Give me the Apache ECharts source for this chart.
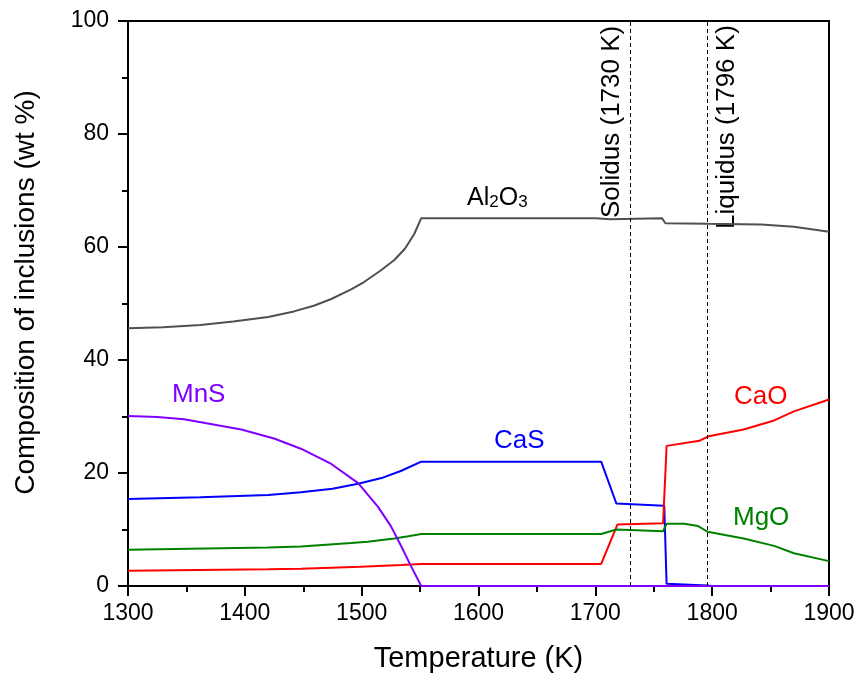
<!DOCTYPE html>
<html>
<head>
<meta charset="utf-8">
<script src="https://cdn.jsdelivr.net/npm/echarts@6/dist/echarts.min.js"></script>
<style>
  html, body { margin: 0; padding: 0; background: #fff; }
  #chart { width: 858px; height: 675px; }
</style>
</head>
<body>
<div id="chart"></div>
<script>
// Equilibrium inclusion composition (wt %) vs. temperature (K)
const xTicks = [1300, 1400, 1500, 1600, 1700, 1800, 1900];
const yTicks = [0, 20, 40, 60, 80, 100];

const al2o3 = [
  [1300, 45.6], [1330, 45.8], [1362, 46.2], [1390, 46.8], [1420, 47.6],
  [1442, 48.6], [1459, 49.6], [1474, 50.8], [1491, 52.5], [1502, 53.8],
  [1516, 55.8], [1528, 57.7], [1537, 59.7], [1545, 62.3], [1551, 65.1],
  [1700, 65.1], [1713, 64.9], [1757, 65.1], [1760, 64.2], [1796, 64.1],
  [1842, 64.0], [1870, 63.6], [1900, 62.7]
];
const cas = [
  [1300, 15.4], [1362, 15.7], [1420, 16.1], [1448, 16.6], [1475, 17.2],
  [1497, 18.1], [1517, 19.1], [1534, 20.4], [1551, 22.0], [1705, 22.0],
  [1718, 14.6], [1759, 14.2], [1761, 0.4], [1796, 0.1], [1800, 0]
];
const cao = [
  [1300, 2.7], [1420, 2.95], [1448, 3.05], [1499, 3.4], [1534, 3.7],
  [1551, 3.9], [1705, 3.9], [1719, 10.9], [1758, 11.1], [1761, 24.8],
  [1789, 25.7], [1797, 26.5], [1827, 27.7], [1853, 29.3], [1870, 30.9],
  [1900, 33.0]
];
const mgo = [
  [1300, 6.4], [1420, 6.8], [1448, 7.0], [1491, 7.6], [1505, 7.85],
  [1528, 8.4], [1540, 8.8], [1551, 9.2], [1705, 9.2], [1718, 10.0],
  [1758, 9.7], [1761, 11.0], [1776, 11.0], [1788, 10.6], [1796, 9.6],
  [1827, 8.4], [1853, 7.1], [1870, 5.8], [1900, 4.4]
];
const mns = [
  [1300, 30.1], [1325, 29.9], [1348, 29.5], [1397, 27.7], [1425, 26.1],
  [1448, 24.3], [1474, 21.6], [1497, 18.2], [1514, 14.0], [1525, 10.6],
  [1534, 7.0], [1542, 3.6], [1551, 0], [1900, 0]
];
const solidusT = 1730;
const liquidusT = 1796;

const FONT = 'Liberation Sans, Arial, sans-serif';
const chart = echarts.init(document.getElementById('chart'));

function lineSeries(name, data, color) {
  return {
    name: name, type: 'line', data: data, showSymbol: false, symbol: 'none',
    lineStyle: { color: color, width: 2 }, z: 3, animation: false
  };
}

const axisCommon = {
  axisLine: { show: true, onZero: false, lineStyle: { color: '#000', width: 2 } },
  axisTick: { show: true, inside: false, length: 10, lineStyle: { color: '#000', width: 2 } },
  minorTick: { show: true, splitNumber: 2, length: 6, lineStyle: { color: '#000', width: 2 } },
  splitLine: { show: false }
};

const option = {
  backgroundColor: '#fff',
  animation: false,
  grid: {
    left: 128, right: 29, top: 21, bottom: 89,
    outerBoundsMode: 'none', containLabel: false,
    show: true, borderColor: '#000', borderWidth: 2, backgroundColor: 'transparent'
  },
  xAxis: Object.assign({
    type: 'value', min: xTicks[0], max: xTicks[xTicks.length - 1], interval: 100,
    name: 'Temperature (K)', nameLocation: 'middle', nameGap: 58,
    nameTextStyle: { fontFamily: FONT, fontSize: 29, color: '#000' },
    axisLabel: { fontFamily: FONT, fontSize: 23, color: '#000', margin: 16, formatter: v => String(v) }
  }, axisCommon),
  yAxis: Object.assign({
    type: 'value', min: yTicks[0], max: yTicks[yTicks.length - 1], interval: 20,
    name: 'Composition of inclusions (wt %)', nameLocation: 'middle', nameGap: 88,
    nameRotate: 90,
    nameTextStyle: { fontFamily: FONT, fontSize: 28, color: '#000', padding: [0, 0, 0, 22] },
    axisLabel: { fontFamily: FONT, fontSize: 23, color: '#000', margin: 19, formatter: v => String(v) }
  }, axisCommon),
  series: [
    lineSeries('Al2O3', al2o3, '#505050'),
    lineSeries('CaS', cas, '#0000ff'),
    lineSeries('CaO', cao, '#ff0000'),
    lineSeries('MgO', mgo, '#008000'),
    lineSeries('MnS', mns, '#8000ff'),
    {
      type: 'line', data: [], silent: true,
      markLine: {
        symbol: 'none', silent: true, animation: false,
        label: { show: false },
        lineStyle: { type: [4, 3], color: '#000', width: 1 },
        data: [{ xAxis: solidusT }, { xAxis: liquidusT }]
      }
    }
  ]
};
chart.setOption(option);

// Series names and phase boundary captions placed next to the curves
function px(t, v) { return chart.convertToPixel({ gridIndex: 0 }, [t, v]); }
const pS = px(solidusT, 100);
const pL = px(liquidusT, 100);
const labelStyle = (text, color) => ({ text: text, fill: color, font: '26px ' + FONT });
chart.setOption({
  graphic: [
    {
      type: 'text', left: 467, top: 179,
      style: {
        text: '{a|Al}{s|2}{a|O}{s|3}', fill: '#000',
        rich: {
          a: { fontSize: 25, fontFamily: FONT, fill: '#000', verticalAlign: 'bottom', lineHeight: 29 },
          s: { fontSize: 17, fontFamily: FONT, fill: '#000', verticalAlign: 'bottom', lineHeight: 29, padding: [15, 0, 0, 0] }
        }
      }
    },
    { type: 'text', left: 172, top: 382, style: labelStyle('MnS', '#8000ff') },
    { type: 'text', left: 494, top: 428, style: labelStyle('CaS', '#0000ff') },
    { type: 'text', left: 734, top: 384, style: labelStyle('CaO', '#ff0000') },
    { type: 'text', left: 733, top: 505, style: labelStyle('MgO', '#008000') },
    {
      type: 'text', x: pS[0] - 32, y: 218, rotation: Math.PI / 2,
      style: { text: 'Solidus (1730 K)', fill: '#000', font: '26px ' + FONT, textAlign: 'left', textVerticalAlign: 'top' }
    },
    {
      type: 'text', x: pL[0] + 6, y: 229, rotation: Math.PI / 2,
      style: { text: 'Liquidus (1796 K)', fill: '#000', font: '26px ' + FONT, textAlign: 'left', textVerticalAlign: 'top' }
    }
  ]
});
</script>
</body>
</html>
